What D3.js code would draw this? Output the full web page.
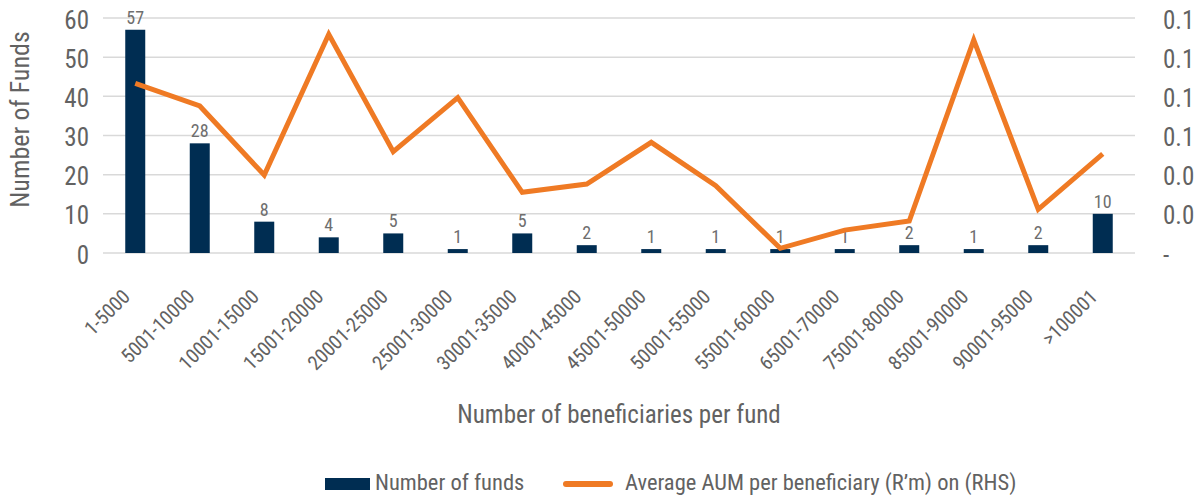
<!DOCTYPE html>
<html>
<head>
<meta charset="utf-8">
<script src="https://cdn.jsdelivr.net/npm/d3@7"></script>
<style>
  body { margin: 0; background: #fff; }
  text { font-family: "Liberation Sans Narrow", "Roboto Condensed", "Liberation Sans", sans-serif; fill: #626262; }
</style>
</head>
<body>
<div class="FundsChart"></div>
<script>
// categories = beneficiary bands
var categories = ["1-5000", "5001-10000", "10001-15000", "15001-20000", "20001-25000",
  "25001-30000", "30001-35000", "40001-45000", "45001-50000", "50001-55000",
  "55001-60000", "65001-70000", "75001-80000", "85001-90000", "90001-95000", ">100001"];

var numFunds = [57, 28, 8, 4, 5, 1, 5, 2, 1, 1, 1, 1, 2, 1, 2, 10];

// average AUM per beneficiary (R'm)
var avgAum = [0.0866, 0.0751, 0.0398, 0.1117, 0.0517, 0.0793, 0.0310, 0.0352,
  0.0565, 0.0344, 0.0024, 0.0117, 0.0163, 0.1088, 0.0223, 0.0506];

var leftTicks = [0, 10, 20, 30, 40, 50, 60];
var rightTicks = [0, 0.02, 0.04, 0.06, 0.08, 0.10, 0.12];

var W = 1196, H = 499;
var margin = {top: 18, right: 61, bottom: 246, left: 103},
    width = W - margin.left - margin.right,
    height = H - margin.top - margin.bottom;

var svg = d3.select(".FundsChart").append("svg")
    .attr("width", W)
    .attr("height", H)
  .append("g")
    .attr("transform", "translate(" + margin.left + "," + margin.top + ")");

var x = d3.scaleBand()
    .domain(categories)
    .range([0, width]);

var y = d3.scaleLinear()
    .domain([0, 60])
    .range([height, 0]);

var y2 = d3.scaleLinear()
    .domain([0, 0.12])
    .range([height, 0]);

// gridlines
svg.selectAll(".grid")
    .data(leftTicks)
    .enter().append("line")
    .attr("class", "grid")
    .attr("x1", 0)
    .attr("x2", width)
    .attr("y1", function(d){ return y(d); })
    .attr("y2", function(d){ return y(d); })
    .attr("stroke", "#d9d9d9")
    .attr("stroke-width", 1.5);

// left axis
var yAxis = d3.axisLeft(y).tickValues(leftTicks).tickSize(0).tickPadding(14);
var gy = svg.append("g").call(yAxis);
gy.select(".domain").remove();
gy.selectAll("text").style("font-size", "25px").attr("dy", "0.4em");

// right axis
var y2Axis = d3.axisRight(y2).tickValues(rightTicks).tickSize(0).tickPadding(28)
    .tickFormat(function(d){ return d === 0 ? "-" : d3.format(".1f")(d); });
var gy2 = svg.append("g").attr("transform", "translate(" + width + ",0)").call(y2Axis);
gy2.select(".domain").remove();
gy2.selectAll("text").style("font-size", "25px").attr("dy", "0.4em");

// bars
var barW = x.bandwidth() * 0.31;
svg.selectAll(".bar")
    .data(numFunds)
    .enter().append("rect")
    .attr("class", "bar")
    .attr("x", function(d, i){ return x(categories[i]) + x.bandwidth() / 2 - barW / 2; })
    .attr("width", barW)
    .attr("y", function(d){ return y(d); })
    .attr("height", function(d){ return height - y(d); })
    .attr("fill", "#002d52");

// bar labels
svg.selectAll(".barLabel")
    .data(numFunds)
    .enter().append("text")
    .attr("class", "barLabel")
    .attr("text-anchor", "middle")
    .attr("x", function(d, i){ return x(categories[i]) + x.bandwidth() / 2; })
    .attr("y", function(d){ return y(d) - 6; })
    .style("font-size", "18px")
    .style("fill", "#6e6e6e")
    .text(function(d){ return d; });

// line
var line = d3.line()
    .x(function(d, i){ return x(categories[i]) + x.bandwidth() / 2; })
    .y(function(d){ return y2(d); });

svg.append("path")
    .datum(avgAum)
    .attr("d", line)
    .attr("fill", "none")
    .attr("stroke", "#ef7a24")
    .attr("stroke-width", 5)
    .attr("stroke-linejoin", "miter");

// x axis labels, rotated
var xAxis = d3.axisBottom(x).tickSize(0).tickPadding(0);
var gx = svg.append("g").attr("transform", "translate(0," + height + ")").call(xAxis);
gx.select(".domain").remove();
gx.selectAll("text")
    .style("font-size", "20px")
    .attr("text-anchor", "end")
    .attr("dy", null)
    .attr("transform", "translate(-4,45) rotate(-45)");

// axis titles
svg.append("text")
    .attr("text-anchor", "middle")
    .attr("transform", "translate(" + -83 + "," + (height / 2 - 16) + ")rotate(-90)")
    .attr("dy", "0.35em")
    .style("font-size", "26px")
    .text("Number of Funds");

svg.append("text")
    .attr("text-anchor", "middle")
    .attr("x", 516)
    .attr("y", 405)
    .style("font-size", "25px")
    .text("Number of beneficiaries per fund");

// legend
var legend = d3.select("svg").append("g").attr("class", "legend");
legend.append("rect")
    .attr("x", 325).attr("y", 478).attr("width", 45).attr("height", 12)
    .attr("fill", "#002d52");
legend.append("text")
    .attr("x", 375).attr("y", 490)
    .style("font-size", "22.5px")
    .text("Number of funds");
legend.append("line")
    .attr("x1", 566).attr("x2", 610).attr("y1", 484).attr("y2", 484)
    .attr("stroke", "#ef7a24").attr("stroke-width", 6).attr("stroke-linecap", "round");
legend.append("text")
    .attr("x", 625).attr("y", 490)
    .style("font-size", "22.5px")
    .text("Average AUM per beneficiary (R\u2019m) on (RHS)");
</script>
</body>
</html>
